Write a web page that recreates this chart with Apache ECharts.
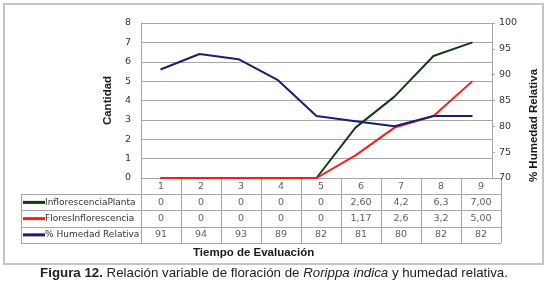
<!DOCTYPE html>
<html>
<head>
<meta charset="utf-8">
<script src="https://cdn.jsdelivr.net/npm/echarts@6/dist/echarts.min.js"></script>
<style>
	html, body { margin: 0; padding: 0; background: #fff; }
	#chart { width: 548px; height: 287px; }
</style>
</head>
<body>
<div id="chart"></div>
<script>
	// datos
	var tiempos = ['1', '2', '3', '4', '5', '6', '7', '8', '9'];
	var inflorescenciaPlanta = [0, 0, 0, 0, 0, 2.60, 4.2, 6.3, 7.00];
	var floresInflorescencia = [0, 0, 0, 0, 0, 1.17, 2.6, 3.2, 5.00];
	var humedadRelativa = [91, 94, 93, 89, 82, 81, 80, 82, 82];
	// texto de la tabla tal como aparece
	var txtInflorescencia = ['0', '0', '0', '0', '0', '2,60', '4,2', '6,3', '7,00'];
	var txtFlores = ['0', '0', '0', '0', '0', '1,17', '2,6', '3,2', '5,00'];
	var txtHumedad = ['91', '94', '93', '89', '82', '81', '80', '82', '82'];
	var nombres = ['InflorescenciaPlanta', 'FloresInflorescencia', '% Humedad Relativa'];
	var colores = ['#123d12', '#ff1a1a', '#1b1f6b'];

	var gris = '#a6a6a6';
	var textoGris = '#333';
	var fuente = 'DejaVu Sans';

	var filas = ['cat'].concat(nombres);
	var celdas = [];
	for(var i = 0; i < tiempos.length; i++) {
		celdas.push([i, 'cat', tiempos[i]]);
		celdas.push([i, nombres[0], txtInflorescencia[i]]);
		celdas.push([i, nombres[1], txtFlores[i]]);
		celdas.push([i, nombres[2], txtHumedad[i]]);
	}

	var marcas = {
		t: { fontFamily: fuente, fontSize: 9, color: textoGris }
	};
	for(var k = 0; k < colores.length; k++) {
		marcas['m' + k] = { width: 22, height: 3, backgroundColor: colores[k] };
	}

	var Chart = echarts.init(document.getElementById('chart'));
	var option = {
		animation: false,
		backgroundColor: '#fff',
		title: [{
			text: 'Tiempo de Evaluación',
			left: 193,
			top: 247,
			padding: 0,
			textStyle: { fontFamily: 'Liberation Sans', fontWeight: 'bold', fontSize: 11.5, color: '#1a1a1a' }
		}, {
			text: '{b|Figura 12.}{n| Relación variable de floración de }{i|Rorippa indica}{n| y humedad relativa.}',
			left: 'center',
			top: 267,
			padding: 0,
			textStyle: {
				fontWeight: 'normal',
				rich: {
					b: { fontFamily: 'Liberation Sans', fontWeight: 'bold', fontSize: 13.3, color: '#222' },
					n: { fontFamily: 'Liberation Sans', fontWeight: 'normal', fontSize: 13.3, color: '#222' },
					i: { fontFamily: 'Liberation Sans', fontWeight: 'normal', fontStyle: 'italic', fontSize: 13.3, color: '#222' }
				}
			}
		}],
		graphic: [{
			type: 'rect',
			shape: { x: 4, y: 4, width: 539, height: 260 },
			style: { fill: 'none', stroke: '#c4c4c4', lineWidth: 2 },
			silent: true
		}],
		grid: [
			{ left: 141, top: 23, width: 360, height: 155 },
			{ left: 141, top: 178, width: 360, height: 65 },
			{ left: 21, top: 194.25, width: 120, height: 48.75 }
		],
		xAxis: [{
			type: 'category',
			gridIndex: 0,
			data: tiempos,
			boundaryGap: true,
			axisLine: { lineStyle: { color: gris } },
			axisTick: { show: false },
			axisLabel: { show: false }
		}, {
			type: 'category',
			gridIndex: 1,
			data: tiempos,
			boundaryGap: true,
			axisLine: { show: false },
			axisTick: { show: false },
			axisLabel: { show: false },
			splitLine: { show: true, lineStyle: { color: gris } }
		}, {
			type: 'category',
			gridIndex: 2,
			data: ['h'],
			boundaryGap: true,
			axisLine: { show: false },
			axisTick: { show: false },
			axisLabel: { show: false },
			splitLine: { show: true, lineStyle: { color: gris } }
		}],
		yAxis: [{
			type: 'value',
			gridIndex: 0,
			min: 0,
			max: 8,
			interval: 1,
			name: 'Cantidad',
			nameLocation: 'middle',
			nameGap: 22,
			nameTextStyle: { fontFamily: 'Liberation Sans', fontWeight: 'bold', fontSize: 11.5, color: '#1a1a1a' },
			axisLine: { show: true, lineStyle: { color: gris } },
			axisTick: { show: false },
			axisLabel: { fontFamily: fuente, fontSize: 9.5, color: textoGris, margin: 10 },
			splitLine: { lineStyle: { color: gris } }
		}, {
			type: 'value',
			gridIndex: 0,
			position: 'right',
			min: 70,
			max: 100,
			interval: 5,
			name: '% Humedad Relativa',
			nameLocation: 'middle',
			nameRotate: 90,
			nameGap: 26,
			nameTextStyle: { fontFamily: 'Liberation Sans', fontWeight: 'bold', fontSize: 11.5, color: '#1a1a1a', padding: [0, 50, 0, 0] },
			axisLine: { show: true, lineStyle: { color: gris } },
			axisTick: { show: true, length: 3, lineStyle: { color: gris } },
			axisLabel: { fontFamily: fuente, fontSize: 9.5, color: textoGris, margin: 7 },
			splitLine: { show: false }
		}, {
			type: 'category',
			gridIndex: 1,
			data: filas,
			inverse: true,
			boundaryGap: true,
			axisLine: { show: false },
			axisTick: { show: false },
			axisLabel: { show: false },
			splitLine: { show: true, lineStyle: { color: gris } }
		}, {
			type: 'category',
			gridIndex: 2,
			data: nombres,
			inverse: true,
			boundaryGap: true,
			axisLine: { show: false },
			axisTick: { show: false },
			splitLine: { show: true, lineStyle: { color: gris } },
			axisLabel: {
				inside: true,
				margin: 2,
				formatter: function(value, idx) {
					return '{m' + idx + '|}{t|' + value + '}';
				},
				rich: marcas
			}
		}],
		series: [{
			name: nombres[0],
			type: 'line',
			xAxisIndex: 0,
			yAxisIndex: 0,
			data: inflorescenciaPlanta,
			symbol: 'none',
			lineStyle: { color: colores[0], width: 2 },
			itemStyle: { color: colores[0] }
		}, {
			name: nombres[1],
			type: 'line',
			xAxisIndex: 0,
			yAxisIndex: 0,
			data: floresInflorescencia,
			symbol: 'none',
			lineStyle: { color: colores[1], width: 2 },
			itemStyle: { color: colores[1] }
		}, {
			name: nombres[2],
			type: 'line',
			xAxisIndex: 0,
			yAxisIndex: 1,
			data: humedadRelativa,
			symbol: 'none',
			lineStyle: { color: colores[2], width: 2 },
			itemStyle: { color: colores[2] }
		}, {
			name: 'tabla',
			type: 'scatter',
			xAxisIndex: 1,
			yAxisIndex: 2,
			data: celdas,
			symbolSize: 1,
			itemStyle: { color: 'rgba(0,0,0,0)' },
			label: {
				show: true,
				position: 'inside',
				formatter: function(p) {
					return p.data[2];
				},
				fontFamily: fuente,
				fontSize: 9.5,
				color: textoGris
			}
		}]
	};
	Chart.setOption(option);
</script>
</body>
</html>
